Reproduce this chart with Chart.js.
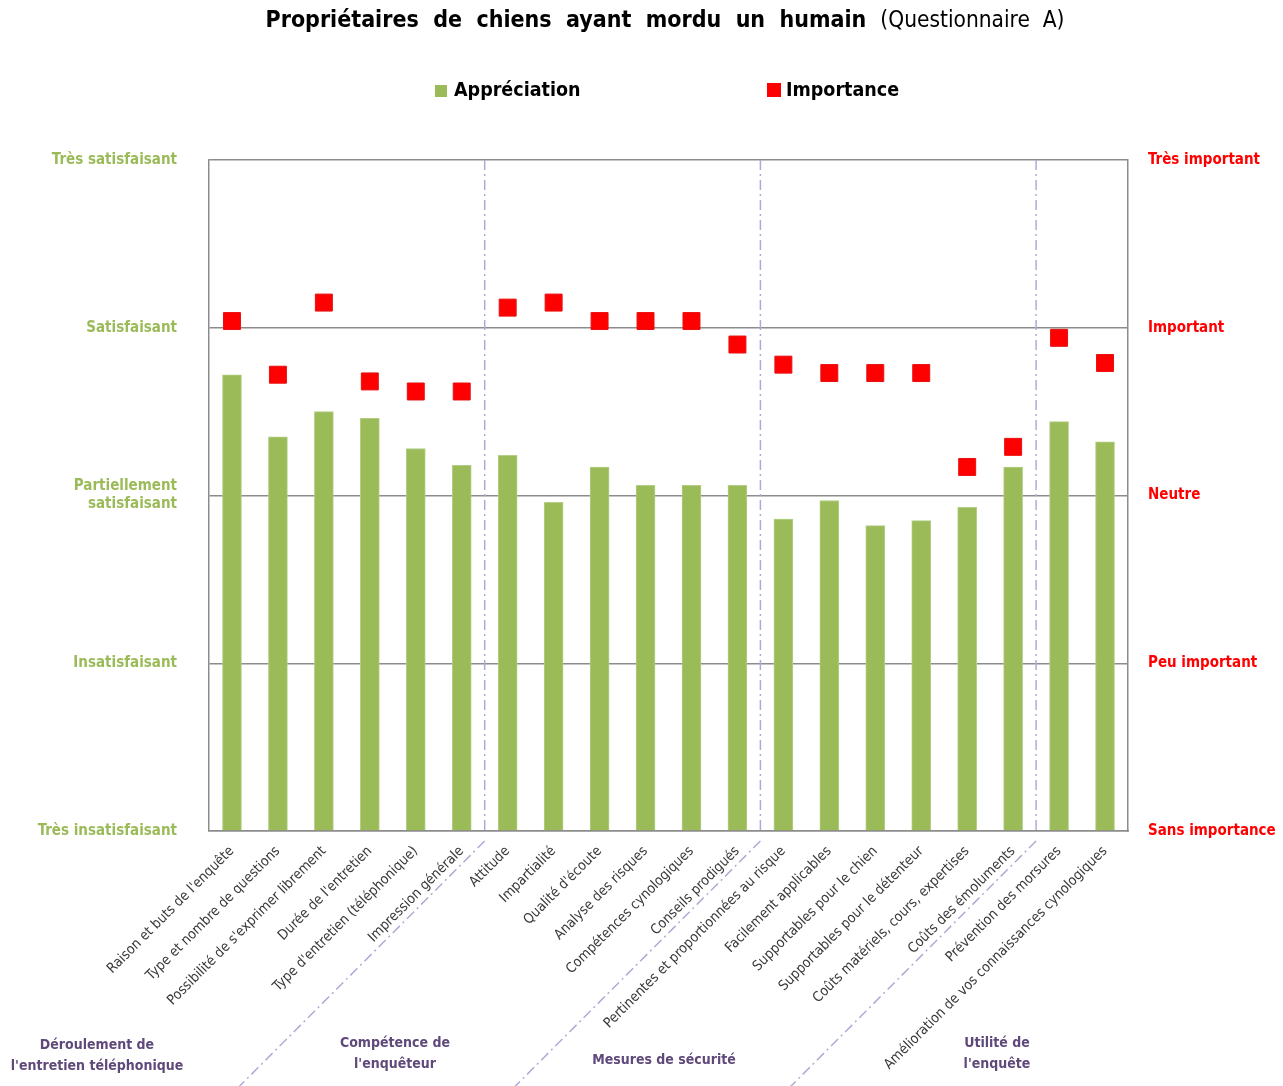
<!DOCTYPE html>
<html>
<head>
<meta charset="utf-8">
<script src="https://cdn.jsdelivr.net/npm/chart.js@4/dist/chart.umd.min.js"></script>
<style>
  html, body { margin: 0; padding: 0; background: #fff; }
  #wrap { width: 1283px; height: 1086px; position: relative; }
</style>
</head>
<body>
<div id="wrap"><canvas id="c"></canvas></div>
<script>
// categories and values
var categories = [
  "Raison et buts de l'enquête",
  "Type et nombre de questions",
  "Possibilité de s'exprimer librement",
  "Durée de l'entretien",
  "Type d'entretien (téléphonique)",
  "Impression générale",
  "Attitude",
  "Impartialité",
  "Qualité d'écoute",
  "Analyse des risques",
  "Compétences cynologiques",
  "Conseils prodigués",
  "Pertinentes et proportionnées au risque",
  "Facilement applicables",
  "Supportables pour le chien",
  "Supportables pour le détenteur",
  "Coûts matériels, cours, expertises",
  "Coûts des émoluments",
  "Prévention des morsures",
  "Amélioration de vos connaissances cynologiques"
];
var appreciation = [3.72, 3.35, 3.50, 3.46, 3.28, 3.18, 3.24, 2.96, 3.17, 3.06,
                    3.06, 3.06, 2.86, 2.97, 2.82, 2.85, 2.93, 3.17, 3.44, 3.32];
var importance = [4.04, 3.72, 4.15, 3.68, 3.62, 3.62, 4.12, 4.15, 4.04, 4.04,
                  4.04, 3.90, 3.78, 3.73, 3.73, 3.73, 3.17, 3.29, 3.94, 3.79];
var leftTicks = ["Très insatisfaisant", "Insatisfaisant", ["Partiellement", "satisfaisant"], "Satisfaisant", "Très satisfaisant"];
var rightTicks = ["Sans importance", "Peu important", "Neutre", "Important", "Très important"];
// group separators after these category indexes
var groupEnds = [5, 11, 17];
var groupLabels = [
  ["Déroulement de", "l'entretien téléphonique"],
  ["Compétence de", "l'enquêteur"],
  ["Mesures de sécurité"],
  ["Utilité de", "l'enquête"]
];

var FONT = "'DejaVu Sans Condensed', 'Liberation Sans', sans-serif";
var green = '#9bbb59';
var red = '#ff0000';
var purple = '#5f497a';
var gridGray = '#8c8c8c';

var extras = {
  id: 'extras',
  beforeDatasetsDraw: function(chart) {
    var ctx = chart.ctx, x = chart.scales.x, area = chart.chartArea;
    ctx.save();
    ctx.strokeStyle = '#b4a7d6';
    ctx.lineWidth = 1.5;
    ctx.setLineDash([10, 4, 2, 4]);
    groupEnds.forEach(function(i) {
      var xb = (x.getPixelForValue(i) + x.getPixelForValue(i + 1)) / 2;
      ctx.beginPath();
      ctx.moveTo(xb, area.top);
      ctx.lineTo(xb, area.bottom);
      ctx.stroke();
      ctx.beginPath();
      ctx.moveTo(xb, area.bottom + 10);
      ctx.lineTo(xb - 246, area.bottom + 256);
      ctx.stroke();
    });
    ctx.restore();
  },
  afterDraw: function(chart) {
    var ctx = chart.ctx;
    ctx.save();
    // title
    ctx.textBaseline = 'middle';
    ctx.fillStyle = '#000';
    ctx.font = 'bold 23px ' + FONT;
    var t1 = 'Propriétaires  de  chiens  ayant  mordu  un  humain';
    var t2 = '(Questionnaire  A)';
    var w1 = ctx.measureText(t1).width;
    ctx.font = '22.5px ' + FONT;
    var w2 = ctx.measureText(t2).width;
    var sx = 665 - (w1 + 14 + w2) / 2;
    ctx.font = 'bold 23px ' + FONT;
    ctx.textAlign = 'left';
    ctx.fillText(t1, sx, 21);
    ctx.font = '22.5px ' + FONT;
    ctx.fillText(t2, sx + w1 + 14, 21);
    // legend
    ctx.font = 'bold 19.5px ' + FONT;
    ctx.fillStyle = green;
    ctx.fillRect(435, 85, 12, 12);
    ctx.fillStyle = '#000';
    ctx.fillText('Appréciation', 454, 91);
    ctx.fillStyle = red;
    ctx.fillRect(767, 83, 14, 14);
    ctx.fillStyle = '#000';
    ctx.fillText('Importance', 786, 91);
    // group labels
    ctx.font = 'bold 14px ' + FONT;
    ctx.fillStyle = purple;
    ctx.textAlign = 'center';
    var gpos = [[97, 1045], [395, 1043], [664, 1060], [997, 1043]];
    groupLabels.forEach(function(lines, g) {
      lines.forEach(function(s, k) {
        ctx.fillText(s, gpos[g][0], gpos[g][1] + k * 21);
      });
    });
    ctx.restore();
  }
};

new Chart(document.getElementById('c'), {
  data: {
    labels: categories,
    datasets: [
      {
        type: 'line',
        label: 'Importance',
        data: importance,
        yAxisID: 'y2',
        showLine: false,
        pointStyle: 'rect',
        pointRadius: 12,
        pointHoverRadius: 12,
        backgroundColor: red,
        borderColor: '#e81010',
        borderWidth: 1,
        order: 0
      },
      {
        type: 'bar',
        label: 'Appréciation',
        data: appreciation,
        yAxisID: 'y',
        backgroundColor: green,
        borderColor: '#b3cf85',
        borderWidth: 1,
        barThickness: 19,
        base: 1,
        order: 1
      }
    ]
  },
  options: {
    responsive: true,
    maintainAspectRatio: false,
    animation: false,
    layout: { padding: { top: 160, left: 0, right: 0, bottom: 0 } },
    plugins: {
      legend: { display: false },
      title: { display: false },
      tooltip: { enabled: false }
    },
    scales: {
      x: {
        offset: true,
        grid: { display: false },
        border: { display: true, color: gridGray, width: 1.5 },
        ticks: {
          autoSkip: false,
          minRotation: 45,
          maxRotation: 45,
          padding: 4,
          color: '#3a3a3a',
          font: { family: FONT, size: 14 }
        },
        afterFit: function(s) { s.height = 255; }
      },
      y: {
        position: 'left',
        min: 1,
        max: 5,
        grid: { color: gridGray, lineWidth: 1.5, drawTicks: false },
        border: { display: true, color: gridGray, width: 1.5 },
        ticks: {
          stepSize: 1,
          padding: 32,
          crossAlign: 'near',
          color: green,
          font: { family: FONT, size: 15, weight: 'bold' },
          callback: function(v) { return leftTicks[v - 1]; }
        },
        afterFit: function(s) { s.width = 209; }
      },
      y2: {
        position: 'right',
        min: 1,
        max: 5,
        grid: { drawOnChartArea: false, drawTicks: false },
        border: { display: true, color: gridGray, width: 1.5 },
        ticks: {
          stepSize: 1,
          padding: 20,
          crossAlign: 'near',
          color: red,
          font: { family: FONT, size: 15, weight: 'bold' },
          callback: function(v) { return rightTicks[v - 1]; }
        },
        afterFit: function(s) { s.width = 155; }
      }
    }
  },
  plugins: [extras]
});
</script>
</body>
</html>
